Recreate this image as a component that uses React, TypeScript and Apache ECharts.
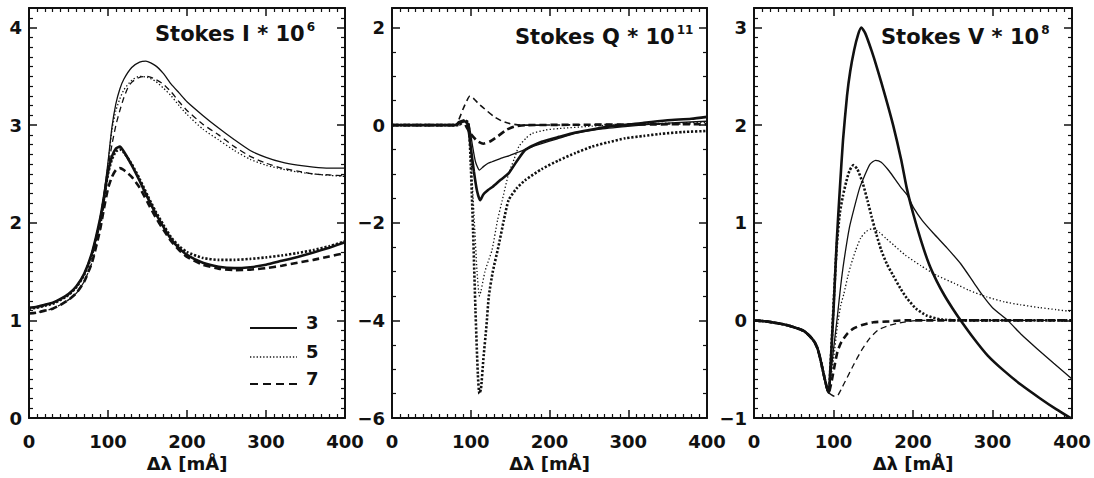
import React, { useEffect, useRef } from "react";
import * as echarts from "echarts";

type P = [number, number];

// ---------- axis / text content ----------
const X_MIN = 0;
const X_MAX = 400;
const X_STEP = 100;
const X_TITLE = "Δλ [mÅ]";
const PANEL_TITLES = ["Stokes I * 10", "Stokes Q * 10", "Stokes V * 10"];
const TITLE_EXPONENTS = ["6", "11", "8"];
// [min, max, interval, minor split]
const Y_RANGES: number[][] = [
  [0, 4.2, 1, 10],
  [-6, 2.4, 2, 4],
  [-1, 3.2, 1, 10],
];
const LEGEND_LABELS = ["3", "5", "7"];

// ---------- Stokes I ----------
const I_RISE_3: P[] = [[0, 1.13], [10, 1.14], [20, 1.16], [30, 1.18], [40, 1.22], [50, 1.27], [60, 1.35], [70, 1.48], [80, 1.7], [90, 2.04]];
const I_RISE_5: P[] = [[0, 1.12], [10, 1.13], [20, 1.15], [30, 1.17], [40, 1.21], [50, 1.26], [60, 1.34], [70, 1.47], [80, 1.68], [90, 2.02]];
const I_RISE_7: P[] = [[0, 1.07], [10, 1.08], [20, 1.1], [30, 1.12], [40, 1.16], [50, 1.21], [60, 1.28], [70, 1.4], [80, 1.6], [90, 1.93]];
const I3_LOW: P[] = [[95, 2.27], [100, 2.52], [105, 2.68], [110, 2.76], [115, 2.78], [120, 2.73], [130, 2.59], [140, 2.43], [150, 2.26], [160, 2.1], [170, 1.96], [180, 1.83], [190, 1.74], [200, 1.67], [220, 1.59], [240, 1.55], [260, 1.535], [280, 1.545], [300, 1.57], [320, 1.61], [340, 1.65], [360, 1.695], [380, 1.745], [400, 1.8]];
const I5_LOW: P[] = [[95, 2.25], [100, 2.5], [105, 2.65], [110, 2.73], [115, 2.75], [120, 2.72], [130, 2.6], [140, 2.45], [150, 2.28], [160, 2.12], [170, 1.98], [180, 1.85], [190, 1.76], [200, 1.7], [220, 1.64], [240, 1.62], [260, 1.62], [280, 1.63], [300, 1.645], [320, 1.665], [340, 1.69], [360, 1.72], [380, 1.76], [400, 1.81]];
const I7_LOW: P[] = [[95, 2.15], [100, 2.35], [105, 2.47], [110, 2.54], [115, 2.56], [120, 2.54], [130, 2.47], [140, 2.36], [150, 2.21], [160, 2.06], [170, 1.93], [180, 1.81], [190, 1.72], [200, 1.65], [220, 1.57], [240, 1.53], [260, 1.515], [280, 1.52], [300, 1.535], [320, 1.56], [340, 1.59], [360, 1.62], [380, 1.655], [400, 1.69]];
const I3_HIGH: P[] = [[95, 2.3], [100, 2.62], [105, 2.98], [110, 3.22], [115, 3.37], [120, 3.47], [130, 3.59], [140, 3.645], [148, 3.655], [160, 3.61], [170, 3.53], [180, 3.42], [190, 3.33], [200, 3.24], [220, 3.1], [240, 2.97], [260, 2.85], [280, 2.74], [300, 2.67], [320, 2.62], [340, 2.59], [360, 2.57], [380, 2.56], [400, 2.56]];
const I5_HIGH: P[] = [[95, 2.28], [100, 2.6], [105, 2.95], [110, 3.15], [115, 3.27], [120, 3.36], [130, 3.46], [140, 3.5], [150, 3.49], [160, 3.45], [170, 3.38], [180, 3.3], [190, 3.2], [200, 3.11], [220, 2.96], [240, 2.85], [260, 2.74], [280, 2.65], [300, 2.59], [320, 2.55], [340, 2.52], [360, 2.5], [380, 2.485], [400, 2.475]];
const I7_HIGH: P[] = [[95, 2.2], [100, 2.55], [105, 2.8], [110, 3.0], [115, 3.15], [120, 3.28], [125, 3.38], [130, 3.44], [140, 3.49], [150, 3.5], [160, 3.47], [170, 3.42], [180, 3.34], [190, 3.24], [200, 3.15], [220, 3.01], [240, 2.9], [260, 2.78], [280, 2.68], [300, 2.61], [320, 2.56], [340, 2.53], [360, 2.5], [380, 2.49], [400, 2.48]];

// ---------- Stokes Q ----------
const Q3_THICK: P[] = [[0, 0], [80, 0], [86, 0.05], [92, 0.08], [96, 0.02], [100, -0.45], [104, -0.95], [108, -1.35], [112, -1.54], [116, -1.42], [122, -1.33], [128, -1.26], [138, -1.12], [148, -0.99], [158, -0.75], [169, -0.51], [180, -0.41], [190, -0.34], [212, -0.24], [233, -0.15], [254, -0.09], [275, -0.03], [296, 0.0], [320, 0.05], [350, 0.1], [380, 0.13], [400, 0.17]];
const Q3_THIN: P[] = [[0, 0], [80, 0], [88, 0.06], [94, 0.08], [98, 0.0], [102, -0.4], [106, -0.75], [111, -0.92], [116, -0.85], [122, -0.78], [127, -0.75], [140, -0.67], [150, -0.62], [161, -0.55], [175, -0.46], [190, -0.38], [210, -0.28], [233, -0.17], [260, -0.09], [296, -0.03], [330, 0.02], [360, 0.05], [400, 0.08]];
const Q5_THICK: P[] = [[0, 0], [85, 0], [92, 0.1], [97, 0.05], [100, -0.8], [103, -2.2], [106, -3.8], [109, -5.1], [111, -5.5], [113, -5.4], [116, -4.8], [120, -4.1], [123, -3.5], [128, -3.0], [135, -2.5], [142, -1.95], [148, -1.54], [158, -1.3], [169, -1.13], [190, -0.9], [212, -0.72], [233, -0.57], [254, -0.44], [275, -0.35], [296, -0.27], [320, -0.22], [340, -0.18], [370, -0.14], [400, -0.12]];
const Q5_THIN: P[] = [[0, 0], [85, 0], [92, 0.1], [97, 0.05], [100, -0.6], [104, -1.8], [108, -3.0], [111, -3.5], [113, -3.4], [118, -3.0], [122, -2.8], [127, -2.56], [134, -1.95], [140, -1.54], [148, -1.0], [155, -0.7], [161, -0.44], [170, -0.27], [178, -0.17], [195, -0.1], [212, -0.07], [254, -0.02], [300, 0.02], [350, 0.04], [400, 0.06]];
const Q7_THIN: P[] = [[0, 0], [80, 0], [85, 0.12], [90, 0.32], [95, 0.5], [99, 0.6], [104, 0.54], [110, 0.44], [120, 0.3], [130, 0.17], [140, 0.08], [150, 0.03], [165, 0.0], [400, 0.03]];
const Q7_THICK: P[] = [[0, 0], [80, 0], [85, 0.06], [90, 0.09], [95, -0.05], [100, -0.18], [108, -0.32], [116, -0.38], [125, -0.33], [135, -0.22], [145, -0.1], [155, -0.03], [170, 0.0], [400, 0.02]];

// ---------- Stokes V ----------
const V_COMMON: P[] = [[0, 0], [15, -0.01], [30, -0.03], [42, -0.05], [52, -0.075], [63, -0.11], [70, -0.16], [76, -0.22], [80, -0.29], [83, -0.38], [86, -0.49], [89, -0.6], [92, -0.7], [94, -0.74]];
const V3_THICK: P[] = [[96, -0.5], [100, 0.1], [104, 0.8], [108, 1.35], [112, 1.85], [117, 2.3], [121, 2.55], [126, 2.77], [131, 2.93], [135, 3.0], [140, 2.94], [148, 2.76], [155, 2.58], [165, 2.3], [175, 2.0], [185, 1.65], [192, 1.36], [200, 1.1], [210, 0.82], [220, 0.58], [230, 0.4], [240, 0.25], [250, 0.12], [260, 0.0], [277, -0.19], [294, -0.36], [315, -0.52], [336, -0.66], [360, -0.8], [380, -0.91], [400, -1.01]];
const V3_THIN: P[] = [[96, -0.6], [100, -0.3], [105, 0.05], [109, 0.35], [113, 0.6], [120, 0.95], [126, 1.15], [133, 1.36], [139, 1.48], [146, 1.6], [153, 1.64], [160, 1.62], [170, 1.53], [184, 1.37], [193, 1.28], [201, 1.15], [212, 1.02], [226, 0.89], [243, 0.74], [260, 0.58], [277, 0.38], [288, 0.25], [300, 0.13], [319, 0.0], [337, -0.15], [356, -0.29], [377, -0.44], [400, -0.6]];
const V5_THICK: P[] = [[96, -0.5], [100, 0.15], [104, 0.75], [108, 1.1], [112, 1.28], [116, 1.42], [120, 1.53], [125, 1.59], [130, 1.55], [137, 1.4], [143, 1.22], [148, 1.06], [154, 0.88], [160, 0.72], [167, 0.58], [175, 0.46], [184, 0.33], [192, 0.23], [204, 0.12], [217, 0.05], [235, 0.01], [260, 0.0], [400, 0.0]];
const V5_THIN: P[] = [[96, -0.62], [100, -0.4], [105, -0.05], [109, 0.15], [113, 0.27], [118, 0.45], [122, 0.57], [128, 0.72], [134, 0.84], [141, 0.91], [149, 0.94], [158, 0.9], [166, 0.84], [176, 0.77], [190, 0.67], [210, 0.56], [230, 0.46], [252, 0.38], [270, 0.31], [293, 0.24], [315, 0.19], [335, 0.16], [360, 0.13], [380, 0.11], [400, 0.09]];
const V7_THICK: P[] = [[97, -0.65], [101, -0.48], [105, -0.32], [110, -0.22], [118, -0.13], [126, -0.08], [135, -0.05], [150, -0.02], [170, -0.01], [190, 0.0], [400, 0.0]];
const V7_THIN: P[] = [[97, -0.76], [102, -0.78], [106, -0.76], [110, -0.7], [115, -0.62], [125, -0.46], [135, -0.31], [146, -0.18], [156, -0.1], [167, -0.06], [180, -0.03], [195, -0.01], [210, 0.0], [400, 0.0]];

const FONT = "'DejaVu Sans', 'Liberation Sans', sans-serif";
const INK = "#111";
const THIN = 1.3;
const THICK = 2.6;
const DOT_THIN = [1.3, 2.2];
const DOT_THICK = [2.2, 1.8];
const DASH_THIN = [6, 4];
const DASH_THICK = [7, 4];

type Spec = { data: P[]; width: number; dash: any };

const PANELS: Spec[][] = [
  [
    { data: [...I_RISE_3, ...I3_HIGH], width: THIN, dash: "solid" },
    { data: [...I_RISE_5, ...I5_HIGH], width: THIN, dash: DOT_THIN },
    { data: [...I_RISE_7, ...I7_HIGH], width: THIN, dash: DASH_THIN },
    { data: [...I_RISE_3, ...I3_LOW], width: THICK, dash: "solid" },
    { data: [...I_RISE_5, ...I5_LOW], width: THICK, dash: DOT_THICK },
    { data: [...I_RISE_7, ...I7_LOW], width: THICK, dash: DASH_THICK },
  ],
  [
    { data: Q3_THIN, width: THIN, dash: "solid" },
    { data: Q5_THIN, width: THIN, dash: DOT_THIN },
    { data: Q7_THIN, width: 1.6, dash: DASH_THIN },
    { data: Q3_THICK, width: THICK, dash: "solid" },
    { data: Q5_THICK, width: THICK, dash: DOT_THICK },
    { data: Q7_THICK, width: THICK, dash: DASH_THICK },
  ],
  [
    { data: [...V_COMMON, ...V3_THIN], width: THIN, dash: "solid" },
    { data: [...V_COMMON, ...V5_THIN], width: THIN, dash: DOT_THIN },
    { data: [...V_COMMON, ...V7_THIN], width: THIN, dash: DASH_THIN },
    { data: [...V_COMMON, ...V3_THICK], width: THICK, dash: "solid" },
    { data: [...V_COMMON, ...V5_THICK], width: THICK, dash: DOT_THICK },
    { data: [...V_COMMON, ...V7_THICK], width: THICK, dash: DASH_THICK },
  ],
];

const GRIDS = [
  { left: 29, top: 8, width: 316, height: 410 },
  { left: 392, top: 8, width: 315, height: 410 },
  { left: 754, top: 8, width: 318, height: 410 },
];
const TITLE_POS = [
  [155, 21],
  [515, 24],
  [881, 24],
];

const labelText = (v: number) => String(v).replace("-", "\u2212");

function buildOption(): any {
  const xAxis: any[] = [];
  const yAxis: any[] = [];
  const series: any[] = [];
  const axisLine = { onZero: false, lineStyle: { color: INK, width: 2 } };
  const tick = { inside: true, length: 8, lineStyle: { color: INK, width: 1.5 } };
  const labelStyle = { color: INK, fontFamily: FONT, fontWeight: "bold", fontSize: 18 };

  GRIDS.forEach((_, gi) => {
    const [ymin, ymax, yint, ysplit] = Y_RANGES[gi];
    const xBase = {
      type: "value", gridIndex: gi, min: X_MIN, max: X_MAX, interval: X_STEP,
      axisLine, axisTick: tick,
      minorTick: { show: true, splitNumber: 10, length: 4, lineStyle: { color: INK, width: 1.2 } },
      splitLine: { show: false },
    };
    xAxis.push({
      ...xBase, position: "bottom",
      axisLabel: { ...labelStyle, margin: 14, formatter: labelText },
      name: X_TITLE, nameLocation: "middle", nameGap: 32,
      nameTextStyle: { ...labelStyle },
    });
    xAxis.push({ ...xBase, position: "top", axisLabel: { show: false } });
    const yBase = {
      type: "value", gridIndex: gi, min: ymin, max: ymax, interval: yint,
      axisLine, axisTick: tick,
      minorTick: { show: true, splitNumber: ysplit, length: 4, lineStyle: { color: INK, width: 1.2 } },
      splitLine: { show: false },
    };
    yAxis.push({
      ...yBase, position: "left",
      axisLabel: { ...labelStyle, margin: 7, showMaxLabel: false, formatter: labelText },
    });
    yAxis.push({ ...yBase, position: "right", axisLabel: { show: false } });

    PANELS[gi].forEach((s) => {
      series.push({
        type: "line", xAxisIndex: gi * 2, yAxisIndex: gi * 2,
        data: s.data, symbol: "none", showSymbol: false, smooth: 0.2,
        silent: true,
        lineStyle: { color: INK, width: s.width, type: s.dash },
      });
    });
  });

  const graphic: any[] = [];
  PANEL_TITLES.forEach((t, i) => {
    graphic.push({
      type: "text", x: TITLE_POS[i][0], y: TITLE_POS[i][1], silent: true,
      style: {
        text: `{a|${t}}{s|${TITLE_EXPONENTS[i]}}`,
        verticalAlign: "top", textVerticalAlign: "top", align: "left",
        rich: {
          a: { fontFamily: FONT, fontWeight: "bold", fontSize: 21, lineHeight: 23, fill: INK, color: INK, verticalAlign: "bottom" },
          s: { fontFamily: FONT, fontWeight: "bold", fontSize: 12, lineHeight: 8, fill: INK, color: INK, verticalAlign: "top", padding: [0, 0, 0, 2] },
        },
      },
    });
  });
  const legendDash = [null, [1.3, 2], [8, 5]];
  const legendWidth = [2, 1.4, 2.2];
  const legendY = [328, 357, 384];
  LEGEND_LABELS.forEach((lab, i) => {
    graphic.push({
      type: "line", silent: true,
      shape: { x1: 250, y1: legendY[i], x2: 297, y2: legendY[i] },
      style: { stroke: INK, lineWidth: legendWidth[i], lineDash: legendDash[i] || undefined },
    });
    graphic.push({
      type: "text", x: 306, y: legendY[i] - 6, silent: true,
      style: { text: lab, fill: INK, fontFamily: FONT, fontWeight: "bold", fontSize: 18, verticalAlign: "middle", textVerticalAlign: "middle" },
    });
  });

  return {
    animation: false,
    backgroundColor: "#fff",
    grid: GRIDS.map((g) => ({ ...g, containLabel: false })),
    xAxis, yAxis, series, graphic,
  };
}

export default function App() {
  const ref = useRef<HTMLDivElement>(null);
  useEffect(() => {
    if (!ref.current) return;
    const chart = echarts.init(ref.current, undefined, { renderer: "svg" });
    chart.setOption(buildOption());
    return () => chart.dispose();
  }, []);
  return (
    <div
      ref={ref}
      style={{ position: "absolute", left: 0, top: 0, width: 1094, height: 478, background: "#fff" }}
    />
  );
}
